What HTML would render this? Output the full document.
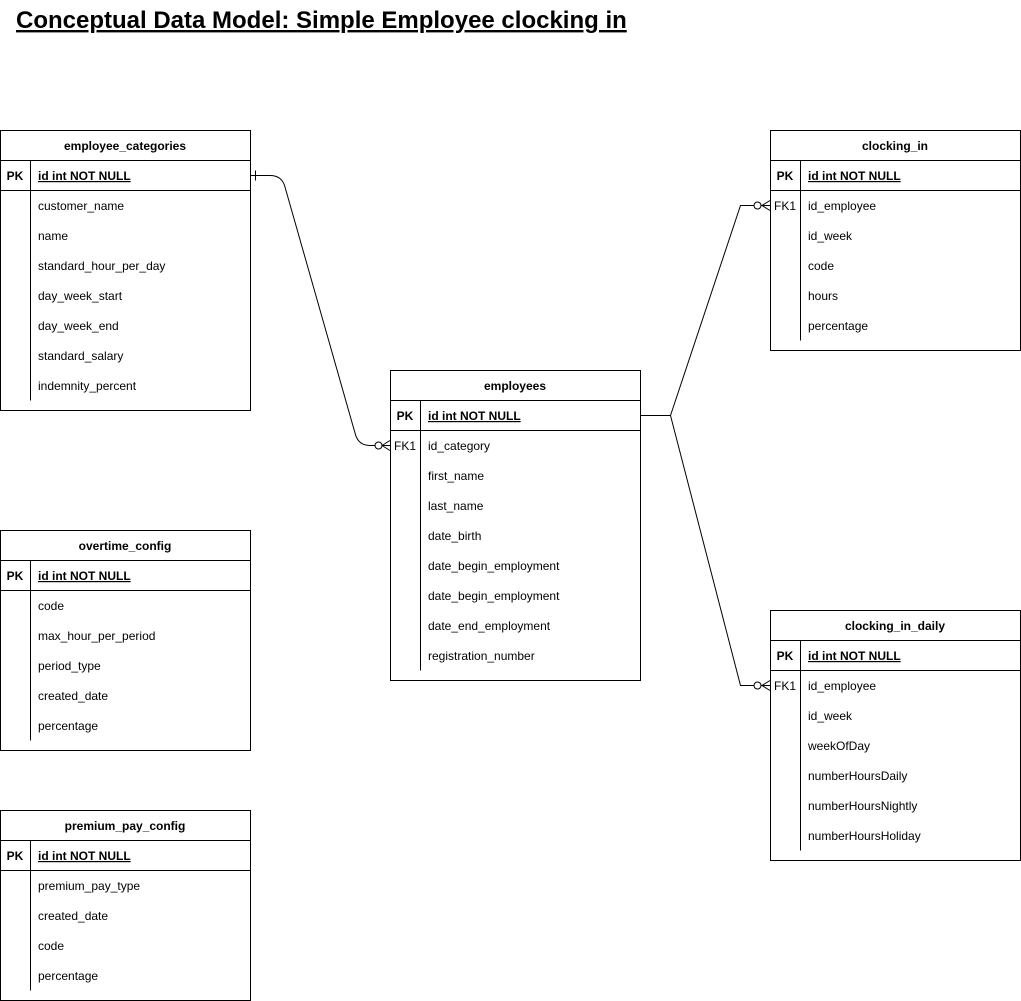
<!DOCTYPE html>
<html><head><meta charset="utf-8"><style>
html,body{margin:0;padding:0;background:#fff;}
svg{display:block;}
text{font-family:"Liberation Sans",Helvetica,Arial,sans-serif;font-size:12px;fill:#000;}
.b{font-weight:bold;}
</style></head><body>
<svg width="1021" height="1001" viewBox="0 0 1021 1001" xmlns="http://www.w3.org/2000/svg">
<text x="16" y="28" style="font-size:24px;font-weight:bold;text-decoration:underline">Conceptual Data Model: Simple Employee clocking in</text>
<g id="tables" stroke="#000" fill="none"></g>
<g fill="none" stroke="#000" stroke-width="1">
<path d="M250.5 175.5 H270 Q282 175.5 285 187 L355 433 Q358 445.5 370 445.5 H390"/>
<line x1="255.5" y1="170.5" x2="255.5" y2="180.5"/>
<circle cx="378.5" cy="445.5" r="3.5" fill="#fff"/>
<path d="M382 445.5 L390 440.5 M382 445.5 L390 450.5"/>
<path d="M640 415.5 H670.5 L740.5 205.5 H770"/>
<path d="M670.5 415.5 L740.5 685.5 H770"/>
<circle cx="757.5" cy="205.5" r="3.5" fill="#fff"/>
<path d="M762 205.5 L770 200.5 M762 205.5 L770 210.5"/>
<circle cx="757.5" cy="685.5" r="3.5" fill="#fff"/>
<path d="M762 685.5 L770 680.5 M762 685.5 L770 690.5"/>
</g>
<g id="txt"></g>
</svg>
<script>
const T=[
["employee_categories",0,130,[["PK","id int NOT NULL"],["","customer_name"],["","name"],["","standard_hour_per_day"],["","day_week_start"],["","day_week_end"],["","standard_salary"],["","indemnity_percent"]]],
["overtime_config",0,530,[["PK","id int NOT NULL"],["","code"],["","max_hour_per_period"],["","period_type"],["","created_date"],["","percentage"]]],
["premium_pay_config",0,810,[["PK","id int NOT NULL"],["","premium_pay_type"],["","created_date"],["","code"],["","percentage"]]],
["employees",390,370,[["PK","id int NOT NULL"],["FK1","id_category"],["","first_name"],["","last_name"],["","date_birth"],["","date_begin_employment"],["","date_begin_employment"],["","date_end_employment"],["","registration_number"]]],
["clocking_in",770,130,[["PK","id int NOT NULL"],["FK1","id_employee"],["","id_week"],["","code"],["","hours"],["","percentage"]]],
["clocking_in_daily",770,610,[["PK","id int NOT NULL"],["FK1","id_employee"],["","id_week"],["","weekOfDay"],["","numberHoursDaily"],["","numberHoursNightly"],["","numberHoursHoliday"]]]
];
let s="",t="";
for(const [n,x,y,r] of T){
 const h=30+r.length*30+10, X=x+0.5, Y=y+0.5;
 s+=`<rect x="${X}" y="${Y}" width="250" height="${h}" fill="#fff"/>`;
 s+=`<line x1="${X}" y1="${Y+30}" x2="${X+250}" y2="${Y+30}"/>`;
 s+=`<line x1="${X}" y1="${Y+60}" x2="${X+250}" y2="${Y+60}"/>`;
 s+=`<line x1="${X+30}" y1="${Y+30}" x2="${X+30}" y2="${Y+30+r.length*30}"/>`;
 t+=`<text class="b" x="${x+125}" y="${y+20}" text-anchor="middle">${n}</text>`;
 r.forEach((f,i)=>{const yy=y+30+i*30+20;
  if(f[0])t+=`<text x="${x+15}" y="${yy}" text-anchor="middle"${i==0?' class="b"':''}>${f[0]}</text>`;
  t+=`<text x="${x+38}" y="${yy}"${i==0?' class="b" text-decoration="underline"':''}>${f[1]}</text>`;});
}
document.getElementById("tables").innerHTML=s;
document.getElementById("txt").innerHTML=t;
</script>
</body></html>
